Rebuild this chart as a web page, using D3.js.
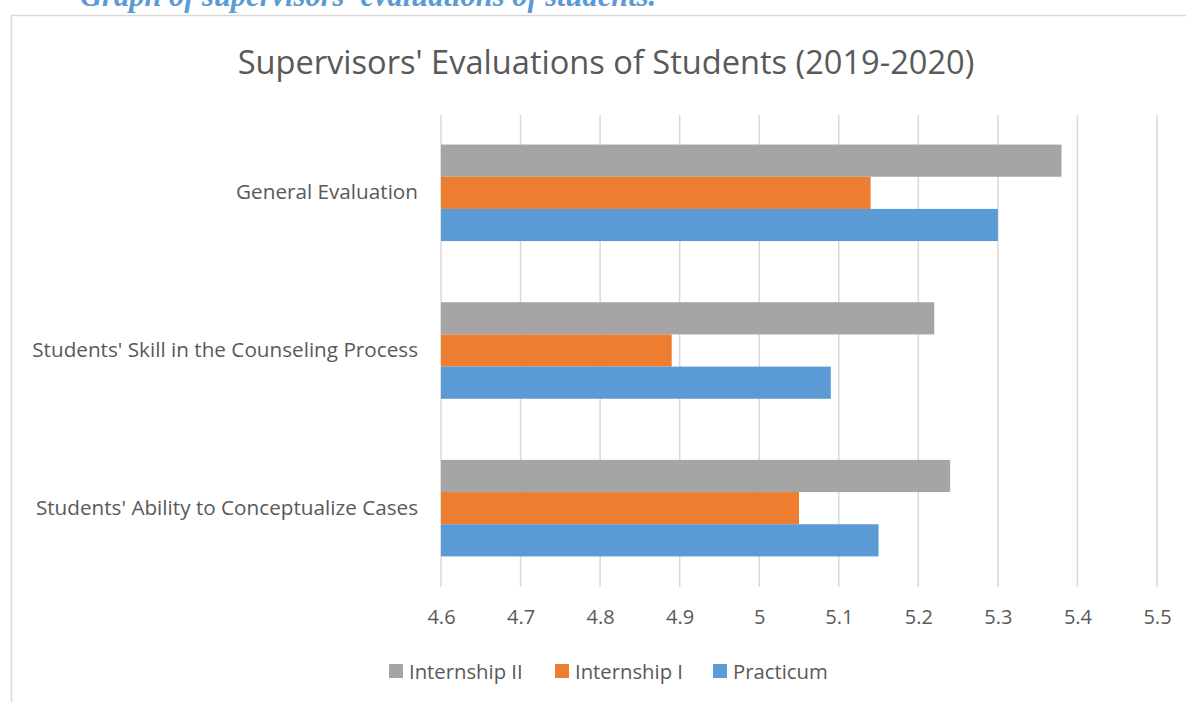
<!DOCTYPE html>
<html><head><meta charset="utf-8">
<script src="https://cdn.jsdelivr.net/npm/d3@7"></script>
<style>body{margin:0;background:#fff;}svg{display:block;font-family:"Open Sans",sans-serif;}</style>
</head><body>
<svg id="c" width="1186" height="702"></svg>
<script>
const categories = ["General Evaluation", "Students' Skill in the Counseling Process", "Students' Ability to Conceptualize Cases"];
const seriesNames = ["Internship II", "Internship I", "Practicum"];
const internship2 = [5.38, 5.22, 5.24];
const internship1 = [5.14, 4.89, 5.05];
const practicum = [5.30, 5.09, 5.15];
const xTicks = [4.6, 4.7, 4.8, 4.9, 5, 5.1, 5.2, 5.3, 5.4, 5.5];
const colors = ["#A5A5A5", "#ED7D31", "#5B9BD5"];
const seriesValues = [internship2, internship1, practicum];

const svg = d3.select("#c");
// caption (cropped at top, as in the source)
svg.append("text").attr("x", 80).attr("y", 6)
  .attr("font-family", "Liberation Serif").attr("font-style", "italic").attr("font-weight", "bold")
  .attr("font-size", 30.5).attr("fill", "#5B9BD5")
  .text("Graph of supervisors' evaluations of students.");
// chart border
svg.append("path").attr("d", "M11.5,702 V15.5 H1186").attr("fill", "none").attr("stroke", "#d9d9d9").attr("stroke-width", 1.5);

const x = d3.scaleLinear().domain([4.6, 5.5]).range([441, 1157]);
const y = d3.scaleBand().domain(categories).range([114, 587]);
const y1 = d3.scaleBand().domain(seriesNames).range([0, y.bandwidth()]).paddingOuter(0.95).paddingInner(0);

// gridlines
svg.append("g").selectAll("line").data(xTicks).join("line")
  .attr("x1", d => x(d)).attr("x2", d => x(d)).attr("y1", 115).attr("y2", 587)
  .attr("stroke", "#d9d9d9").attr("stroke-width", 1.5);

// bars
categories.forEach((c, i) => {
  svg.append("g").selectAll("rect").data(seriesNames).join("rect")
    .attr("x", x(4.6)).attr("y", (s) => y(c) + y1(s))
    .attr("width", (s, j) => x(seriesValues[j][i]) - x(4.6))
    .attr("height", y1.bandwidth())
    .attr("fill", (s, j) => colors[j]);
});

// x axis labels
const xa = svg.append("g").attr("transform", "translate(0,587)")
  .call(d3.axisBottom(x).tickValues(xTicks).tickFormat(d => String(d)).tickSize(0).tickPadding(23));
xa.select(".domain").remove();
xa.selectAll("text").attr("font-family", "Open Sans").attr("font-size", 20).attr("fill", "#595959");

// y axis labels
const ya = svg.append("g").attr("transform", "translate(441,0)")
  .call(d3.axisLeft(y).tickSize(0).tickPadding(23));
ya.select(".domain").remove();
ya.selectAll("text").attr("font-family", "Open Sans").attr("font-size", 20.7).attr("fill", "#595959");

// title
svg.append("text").attr("x", 606).attr("y", 74).attr("text-anchor", "middle")
  .attr("font-size", 32.6).attr("fill", "#595959").text("Supervisors' Evaluations of Students (2019-2020)");

// legend
const legendX = [389, 555, 713];
const lg = svg.append("g");
seriesNames.forEach((s, j) => {
  lg.append("rect").attr("x", legendX[j]).attr("y", 664).attr("width", 14).attr("height", 14).attr("fill", colors[j]);
  lg.append("text").attr("x", legendX[j] + 20).attr("y", 679).attr("font-size", 20.3).attr("fill", "#595959").text(s);
});
</script>
</body></html>
